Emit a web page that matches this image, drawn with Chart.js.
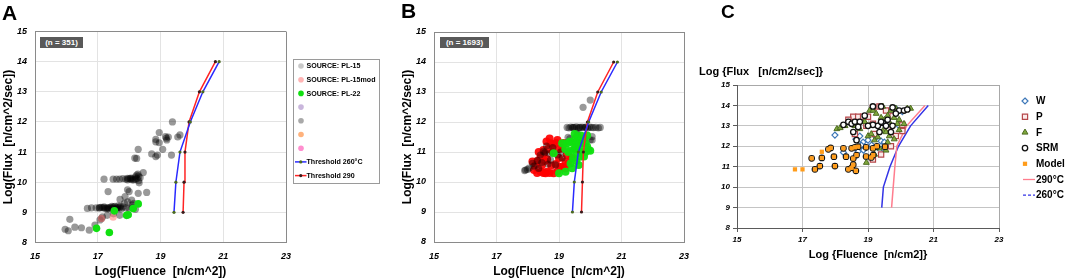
<!DOCTYPE html>
<html><head><meta charset="utf-8">
<script src="https://cdn.jsdelivr.net/npm/chart.js@4.4.1/dist/chart.umd.min.js"></script>
<style>
html,body{margin:0;padding:0;background:#fff;width:1065px;height:280px;overflow:hidden;font-family:"Liberation Sans",Arial,sans-serif;}
canvas{position:absolute;top:0;}
.lbl{position:absolute;font-weight:bold;color:#000;white-space:pre;}
.nbox{position:absolute;background:#595959;color:#fff;font-weight:bold;font-size:8px;line-height:11px;height:11px;text-align:center;white-space:pre;}
</style></head><body>
<canvas id="ca" style="left:0px" width="390" height="280"></canvas>
<canvas id="cb" style="left:390px" width="310" height="280"></canvas>
<canvas id="cc" style="left:700px" width="365" height="280"></canvas>
<div class="lbl" style="left:2px;top:2px;font-size:21px;line-height:21px">A</div>
<div class="lbl" style="left:401px;top:0px;font-size:21px;line-height:21px">B</div>
<div class="lbl" style="left:721px;top:2px;font-size:19px;line-height:20px">C</div>
<div class="nbox" style="left:40px;top:37px;width:43px">(n = 351)</div>
<div class="nbox" style="left:440px;top:37px;width:49px">(n = 1693)</div>
<div class="lbl" style="left:699px;top:65px;font-size:11px;line-height:13px">Log {Flux   [n/cm2/sec]}</div>
<script>
const FONT = "'Liberation Sans', Arial, sans-serif";
const xTicks = [15, 17, 19, 21, 23];
const yTicks = [8, 9, 10, 11, 12, 13, 14, 15];

// ---- Panel A data ----
const aPL15 = [[15.96,8.44],[16.06,8.39],[16.11,8.77],[16.27,8.51],[16.48,8.49],[16.73,8.41],[16.91,8.58],[17.07,8.75],[17.15,8.85],[17.3,8.9],
 [16.67,9.13],[16.8,9.15],[16.95,9.15],[17.05,9.14],[17.1,9.17],[17.15,9.16],[17.2,9.15],[17.25,9.13],[17.3,9.16],[17.35,9.15],[17.4,9.17],[17.45,9.14],
 [17.5,9.18],[17.55,9.2],[17.6,9.15],[17.65,9.22],[17.7,9.15],[17.75,9.12],[17.8,9.18],[17.9,9.15],[18.0,9.14],[18.1,9.16],[17.3,9.12],[17.45,9.2],[17.6,9.12],
 [17.05,9.16],[17.2,9.18],[17.35,9.12],[17.5,9.14],[17.65,9.16],[17.72,9.2],
 [17.71,9.43],[17.87,9.52],[18.08,9.41],[17.95,9.35],[18.15,9.3],[17.33,9.69],[18.0,9.69],[17.95,9.75],[18.29,9.63],[18.56,9.66],
 [17.2,10.1],[17.49,10.1],[17.6,10.1],[17.7,10.1],[17.8,10.12],[17.9,10.1],[17.95,10.08],[18.0,10.12],[18.05,10.1],[18.1,10.13],[18.15,10.08],[18.2,10.1],
 [18.24,10.24],[18.28,10.27],[18.3,10.05],[18.32,9.98],[18.35,10.15],[18.45,10.32],[18.25,10.12],[18.1,10.08],[17.95,10.13],[18.2,10.18],[18.3,10.2],[18.05,10.14],
 [18.18,10.8],[18.24,10.79],[18.29,11.09],[18.72,10.94],[18.85,10.85],[18.9,10.9],[19.07,11.09],[19.35,10.9],
 [18.85,11.34],[18.96,11.31],[18.85,11.42],[18.96,11.65],[19.16,11.51],[19.19,11.46],[19.25,11.5],[19.38,12.0],[19.55,11.5],[19.62,11.57],[19.2,11.4],
 [17.5,8.95],[17.7,8.9],[18.2,9.1],[18.1,9.25],[17.85,9.3],[17.12,8.8]];
const aPL15mod = [[17.49,8.84],[17.12,8.8]];
const aPL22 = [[16.96,8.47],[17.37,8.33],[17.53,9.05],[17.92,8.9],[17.97,8.92],[18.13,9.13],[18.29,9.28]];
const aThr260 = [[19.43,9],[19.49,10],[19.62,11],[19.95,12],[20.35,13],[20.87,14]];
const aThr290 = [[19.72,9],[19.75,10],[19.78,11],[19.91,12],[20.24,13],[20.75,14]];

// ---- Panel B data ----
const bGray = [[19.26,11.82],[19.32,11.8],[19.38,11.83],[19.44,11.81],[19.5,11.82],[19.56,11.84],[19.62,11.8],[19.68,11.82],[19.74,11.83],[19.8,11.81],
 [19.86,11.82],[19.92,11.8],[19.98,11.83],[20.04,11.82],[20.1,11.81],[20.18,11.82],[20.26,11.8],[20.32,11.82],[19.45,11.82],[19.65,11.82],[19.85,11.83],
 [19.77,12.49],[20.0,12.73],[19.29,11.49],[19.6,11.57],[20.06,11.51],[19.58,11.62],[20.06,11.4],[19.35,11.45],
 [17.9,10.38],[17.99,10.42],[18.04,10.46],[17.93,10.4],[18.2,10.53],[18.31,10.71],[18.55,10.98],[18.73,10.73],[18.89,10.57],[18.5,11.02],
 [18.4,10.9],[18.65,10.6],[18.95,10.9],[19.05,11.0],[18.8,11.15],[19.1,10.8],[18.35,10.45],[18.6,11.2],[18.15,10.62],[18.7,10.95],[18.45,10.65],[20.0,11.4]];
const bRed = [[18.25,10.57],[18.15,10.68],[18.41,10.34],[18.5,10.3],[18.57,10.29],[18.62,10.34],[18.7,10.3],[18.83,10.29],[18.95,10.35],[19.1,10.51],
 [19.2,10.45],[18.52,10.96],[18.5,11.07],[18.62,10.76],[18.73,11.29],[18.83,11.23],[18.65,11.1],[18.8,11.0],[19.0,11.1],[19.1,11.12],[19.21,10.68],
 [19.3,10.62],[19.0,10.8],[18.9,10.6],[18.4,10.8],[18.35,11.0],[18.6,11.35],[18.7,11.45],[18.9,11.3],[19.15,11.3],[18.3,10.7],[18.45,10.55],[19.05,10.5],
 [18.75,10.55],[18.55,10.7],[18.95,11.4],[19.25,10.9],[18.2,10.4],[18.3,10.3],[19.4,10.8]];
const bGreen = [[19.26,11.29],[19.35,11.35],[19.45,11.3],[19.53,11.46],[19.6,11.4],[19.68,11.34],[19.75,11.3],[19.8,11.45],[19.9,11.18],[19.95,11.07],
 [20.0,11.04],[19.85,11.0],[19.58,10.96],[19.7,11.0],[19.68,10.84],[19.8,10.85],[19.5,11.1],[19.4,11.05],[19.37,10.62],[19.63,10.57],[19.42,10.46],
 [19.21,10.34],[19.0,10.29],[18.83,10.96],[19.1,11.29],[19.2,11.1],[19.3,11.0],[19.55,11.2],[19.7,11.55],[19.5,11.6],[19.9,11.55],[19.65,11.15],
 [19.45,10.8],[19.55,10.7],[19.85,11.3]];

// ---- Panel C data ----
const cW = [[17.99,12.55],[18.63,12.35],[18.85,12.2],[18.86,11.81],[19.11,12.06],[19.4,12.25],[19.57,12.06],[19.75,12.55],[19.95,13.0],[20.05,13.7],
 [19.85,13.85],[19.45,11.9],[18.25,11.7],[19.5,12.2],[18.75,12.5],[18.7,11.75],[19.0,12.3],[19.25,12.45],[18.8,12.05],[19.3,11.95]];
const cP = [[18.55,13.45],[18.7,13.45],[18.85,13.45],[19.0,13.45],[19.15,13.9],[19.35,13.95],[19.15,13.1],[19.6,12.9],[20.05,13.05],[20.05,12.75],
 [19.7,12.0],[19.15,11.35],[19.4,11.6],[18.6,12.6],[19.55,13.75],[18.95,13.0],[19.2,12.6],[19.85,12.5],[18.4,13.3],[19.75,13.5]];
const cF = [[18.05,12.85],[18.15,12.9],[18.95,11.2],[19.05,13.75],[19.15,13.75],[19.25,13.6],[19.4,13.4],[19.5,13.3],[19.6,13.5],[19.7,13.75],
 [19.8,13.4],[19.9,13.1],[19.95,12.8],[20.2,13.85],[20.3,13.85],[19.0,12.5],[19.1,12.6],[19.2,12.3],[19.3,12.45],[19.45,12.75],[19.55,12.7],
 [19.65,12.5],[19.8,12.35],[19.2,11.6],[19.35,11.9],[19.55,11.8],[18.3,13.0],[18.9,13.2],[19.05,13.0],[19.35,13.1],[19.7,13.05],[19.95,13.3],
 [20.1,13.1],[18.75,12.85],[19.45,13.95],[19.85,13.85],[19.6,12.2],[18.6,13.0]];
const cSRM = [[18.25,13.05],[18.4,13.2],[18.5,13.1],[18.6,13.2],[18.75,13.2],[18.55,12.7],[18.65,12.3],[18.7,12.95],[18.9,13.5],[19.15,13.95],
 [19.4,13.95],[19.75,13.9],[19.95,13.75],[20.1,13.75],[20.2,13.8],[19.3,13.0],[19.45,13.15],[19.6,13.3],[19.55,13.0],[19.75,13.0],[19.35,12.7],
 [19.7,12.7],[19.15,13.05],[19.0,13.0],[19.4,13.2],[19.85,13.6],
 [17.28,11.41],[17.59,11.43],[17.96,11.49],[17.38,10.87],[17.53,11.03],[17.99,11.03],[17.79,11.85],[17.86,11.92],[18.25,11.9],[18.33,11.49],
 [18.4,10.87],[18.5,10.95],[18.55,11.1],[18.55,11.4],[18.65,11.57],[18.5,11.9],[18.7,11.98],[18.94,11.95],[18.94,11.5],[19.16,11.57],[19.15,11.9],
 [19.27,12.0],[19.1,11.45],[19.52,11.98],[18.63,10.8],[18.6,11.95]];
const cModel = [[16.77,10.87],[17.0,10.87],[17.59,11.73],
 [17.28,11.41],[17.59,11.43],[17.96,11.49],[17.38,10.87],[17.53,11.03],[17.99,11.03],[17.79,11.85],[17.86,11.92],[18.25,11.9],[18.33,11.49],
 [18.4,10.87],[18.5,10.95],[18.55,11.1],[18.55,11.4],[18.65,11.57],[18.5,11.9],[18.7,11.98],[18.94,11.95],[18.94,11.5],[19.16,11.57],[19.15,11.9],
 [19.27,12.0],[19.1,11.45],[19.52,11.98],[18.63,10.8],[18.6,11.95]];
const c290 = [[19.72,9],[19.77,10],[19.82,11],[19.88,12],[20.18,13],[20.74,14]];
const c260 = [[19.42,9],[19.47,10],[19.67,11],[19.93,12],[20.3,13],[20.84,14]];

const xy = arr => arr.map(p => ({x: p[0], y: p[1]}));

function drawMarker(ctx, style, x, y, r, fill, stroke, bw) {
  ctx.save();
  ctx.beginPath();
  if (style === 'rect') { const s = r * Math.SQRT1_2; ctx.rect(x - s, y - s, 2 * s, 2 * s); }
  else if (style === 'rectRot') { ctx.moveTo(x, y - r); ctx.lineTo(x + r, y); ctx.lineTo(x, y + r); ctx.lineTo(x - r, y); ctx.closePath(); }
  else if (style === 'triangle') { const h = r * 1.5; const w = r * 0.87; ctx.moveTo(x, y - r); ctx.lineTo(x + w, y - r + h); ctx.lineTo(x - w, y - r + h); ctx.closePath(); }
  else ctx.arc(x, y, r, 0, Math.PI * 2);
  if (fill) { ctx.fillStyle = fill; ctx.fill(); }
  if (stroke && bw) { ctx.strokeStyle = stroke; ctx.lineWidth = bw; ctx.stroke(); }
  ctx.restore();
}

const boxLegend = {
  id: 'boxLegend',
  afterDraw(chart, args, o) {
    if (!o || !o.show) return;
    const ctx = chart.ctx;
    ctx.save();
    if (o.box) { ctx.strokeStyle = o.box.color; ctx.lineWidth = 1; ctx.strokeRect(o.box.x + 0.5, o.box.y + 0.5, o.box.w, o.box.h); }
    ctx.font = o.font; ctx.textBaseline = 'middle'; ctx.textAlign = 'left';
    chart.data.datasets.forEach((ds, i) => {
      const y = o.y + i * o.rowH;
      const lg = ds.legend || {};
      if (ds.showLine) {
        ctx.strokeStyle = ds.borderColor; ctx.lineWidth = lg.lineWidth || 1.5;
        ctx.setLineDash(lg.dash || []);
        ctx.beginPath(); ctx.moveTo(o.lineX0, y); ctx.lineTo(o.lineX1, y); ctx.stroke();
        ctx.setLineDash([]);
        if (lg.dot) drawMarker(ctx, 'circle', (o.lineX0 + o.lineX1) / 2, y, lg.dot, ds.pointBackgroundColor);
      } else {
        drawMarker(ctx, ds.pointStyle || 'circle', o.markX, y, lg.r || ds.pointRadius, lg.color || ds.backgroundColor,
                   lg.border || ds.borderColor, ds.borderWidth || 0);
      }
      ctx.fillStyle = '#000';
      ctx.fillText(ds.label, o.textX, y + 0.5);
    });
    ctx.restore();
  }
};

function scales(c) {
  return {
    x: {
      type: 'linear', min: 15, max: 23,
      afterBuildTicks: s => { s.ticks = xTicks.map(v => ({value: v})); },
      afterFit: s => { s.height = c.xh; },
      ticks: {color: '#000', font: {family: FONT, size: c.tickSize, weight: 'bold', style: 'italic'}, padding: c.xpad, maxRotation: 0, autoSkip: false},
      grid: {color: g => (g.tick && g.tick.value === 23) ? c.frame : c.grid, drawTicks: c.drawTicks, tickLength: 4, tickColor: c.axis},
      border: {color: c.axis, width: 1},
      title: {display: true, text: c.xTitle, color: '#000', font: {family: FONT, size: c.titleSize, weight: 'bold'}, padding: {top: 0, bottom: c.xtpad}}
    },
    y: {
      type: 'linear', min: 8, max: 15,
      afterBuildTicks: s => { s.ticks = yTicks.map(v => ({value: v})); },
      afterFit: s => { s.width = c.yw; },
      ticks: {color: '#000', font: {family: FONT, size: c.tickSize, weight: 'bold', style: 'italic'}, padding: c.ypad, autoSkip: false},
      grid: {color: g => (g.tick && g.tick.value === 15) ? c.frame : c.grid, drawTicks: c.drawTicks, tickLength: 4, tickColor: c.axis},
      border: {color: c.axis, width: 1},
      title: {display: !!c.yTitle, text: c.yTitle || '', color: '#000', font: {family: FONT, size: c.titleSize, weight: 'bold'}, padding: {top: c.ytpad, bottom: 0}}
    }
  };
}

function baseOpts(pad, sc, legendOpts) {
  return {
    responsive: false, animation: false, devicePixelRatio: 1, events: [],
    layout: {padding: pad},
    scales: sc,
    plugins: {legend: {display: false}, tooltip: {enabled: false}, boxLegend: legendOpts || {show: false}}
  };
}

const grayDs = (data, order) => ({label: 'SOURCE: PL-15', data: xy(data), pointRadius: 3.6, backgroundColor: 'rgba(0,0,0,0.4)', borderWidth: 0, order,
  legend: {color: '#c8c8c8', r: 2.8}});
const lineDs = (label, data, color, dotColor) => ({label, data: xy(data), showLine: true, borderColor: color, borderWidth: 1.5,
  pointRadius: 1.6, pointBackgroundColor: dotColor, pointBorderWidth: 0, backgroundColor: color, order: 0, legend: {dot: 1.6, lineWidth: 1.5}});

// Panel A
new Chart(document.getElementById('ca'), {
  type: 'scatter',
  data: {datasets: [
    grayDs(aPL15, 3),
    {label: 'SOURCE: PL-15mod', data: xy(aPL15mod), pointRadius: 3.6, backgroundColor: 'rgba(255,120,120,0.55)', borderWidth: 0, order: 2, legend: {color: '#ffb4b4', r: 2.8}},
    {label: 'SOURCE: PL-22', data: xy(aPL22), pointRadius: 3.8, backgroundColor: '#10e010', borderWidth: 0, order: 1, legend: {color: '#10e010', r: 2.8}},
    {label: '', data: [], backgroundColor: '#c9b6dc', pointRadius: 2.8},
    {label: '', data: [], backgroundColor: '#a9a9a9', pointRadius: 2.8},
    {label: '', data: [], backgroundColor: '#ffb27c', pointRadius: 2.8},
    {label: '', data: [], backgroundColor: '#ff8fcf', pointRadius: 2.8},
    lineDs('Threshold 260°C', aThr260, '#2a2aff', '#4a6a20'),
    lineDs('Threshold 290', aThr290, '#ff2424', '#3a1a1a')
  ]},
  options: baseOpts({left: 0, top: 31.5, right: 104, bottom: 0},
    scales({xh: 37.5, yw: 35, tickSize: 9, xpad: 9, ypad: 8, frame: '#8a8a8a', grid: '#e3e3e3', axis: '#8a8a8a', drawTicks: false,
      xTitle: 'Log(Fluence  [n/cm^2])', yTitle: 'Log(Flux  [n/cm^2/sec])', titleSize: 12, xtpad: 1, ytpad: 1.5}),
    {show: true, box: {x: 293, y: 59, w: 86, h: 124, color: '#9a9a9a'}, font: "bold 7.1px " + FONT, y: 66, rowH: 13.7,
     markX: 301, textX: 306.5, lineX0: 295, lineX1: 306.5}),
  plugins: [boxLegend]
});

// Panel B
new Chart(document.getElementById('cb'), {
  type: 'scatter',
  data: {datasets: [
    grayDs(bGray, 2),
    {label: 'PL-15mod', data: xy(bRed), pointRadius: 4, backgroundColor: 'rgba(255,0,0,0.92)', borderWidth: 0, order: 3},
    {label: 'PL-22', data: xy(bGreen), pointRadius: 4, backgroundColor: 'rgba(16,224,16,0.95)', borderWidth: 0, order: 1},
    lineDs('Threshold 260°C', aThr260, '#2a2aff', '#4a6a20'),
    lineDs('Threshold 290', aThr290, '#ff2424', '#3a1a1a')
  ]},
  options: baseOpts({left: 0, top: 32, right: 16, bottom: 0},
    scales({xh: 38, yw: 44, tickSize: 9, xpad: 9, ypad: 8, frame: '#8a8a8a', grid: '#e3e3e3', axis: '#8a8a8a', drawTicks: false,
      xTitle: 'Log(Fluence  [n/cm^2])', yTitle: 'Log(Flux  [n/cm^2/sec])', titleSize: 12, xtpad: 1, ytpad: 10.8}))
});

// Panel C
new Chart(document.getElementById('cc'), {
  type: 'scatter',
  data: {datasets: [
    {label: 'W', data: xy(cW), pointStyle: 'rectRot', pointRadius: 3, backgroundColor: '#ffffff', borderColor: '#3d77b8', borderWidth: 1.2, order: 6},
    {label: 'P', data: xy(cP), pointStyle: 'rect', pointRadius: 3.7, backgroundColor: '#fbeaea', borderColor: '#b5474a', borderWidth: 1.2, order: 5},
    {label: 'F', data: xy(cF), pointStyle: 'triangle', pointRadius: 3.4, backgroundColor: '#7fa83c', borderColor: '#4e6b22', borderWidth: 1, order: 4},
    {label: 'SRM', data: xy(cSRM), pointStyle: 'circle', pointRadius: 2.7, backgroundColor: '#ffffff', borderColor: '#111111', borderWidth: 1.3, order: 3},
    {label: 'Model', data: xy(cModel), pointStyle: 'rect', pointRadius: 3, backgroundColor: '#ff9c1a', borderColor: '#ff9c1a', borderWidth: 0, order: 2},
    {label: '290°C', data: xy(c290), showLine: true, borderColor: '#ff7d8e', borderWidth: 1.5, pointRadius: 0, order: 7, legend: {lineWidth: 1.3}},
    {label: '260°C', data: xy(c260), showLine: true, borderColor: '#3434e6', borderWidth: 1.5, pointRadius: 0, order: 8, legend: {lineWidth: 1.3, dash: [3, 2]}}
  ]},
  options: baseOpts({left: 0, top: 85, right: 66, bottom: 0},
    scales({xh: 52, yw: 37, tickSize: 8, xpad: 3, ypad: 3, frame: '#a8a8a8', grid: '#c4c4c4', axis: '#5a5a5a', drawTicks: true,
      xTitle: 'Log {Fluence  [n/cm2]}', yTitle: '', titleSize: 11, xtpad: 18.4, ytpad: 0}),
    {show: true, font: "bold 10px " + FONT, y: 101, rowH: 15.7, markX: 325, textX: 336, lineX0: 323, lineX1: 335}),
  plugins: [boxLegend]
});
</script>
</body></html>
